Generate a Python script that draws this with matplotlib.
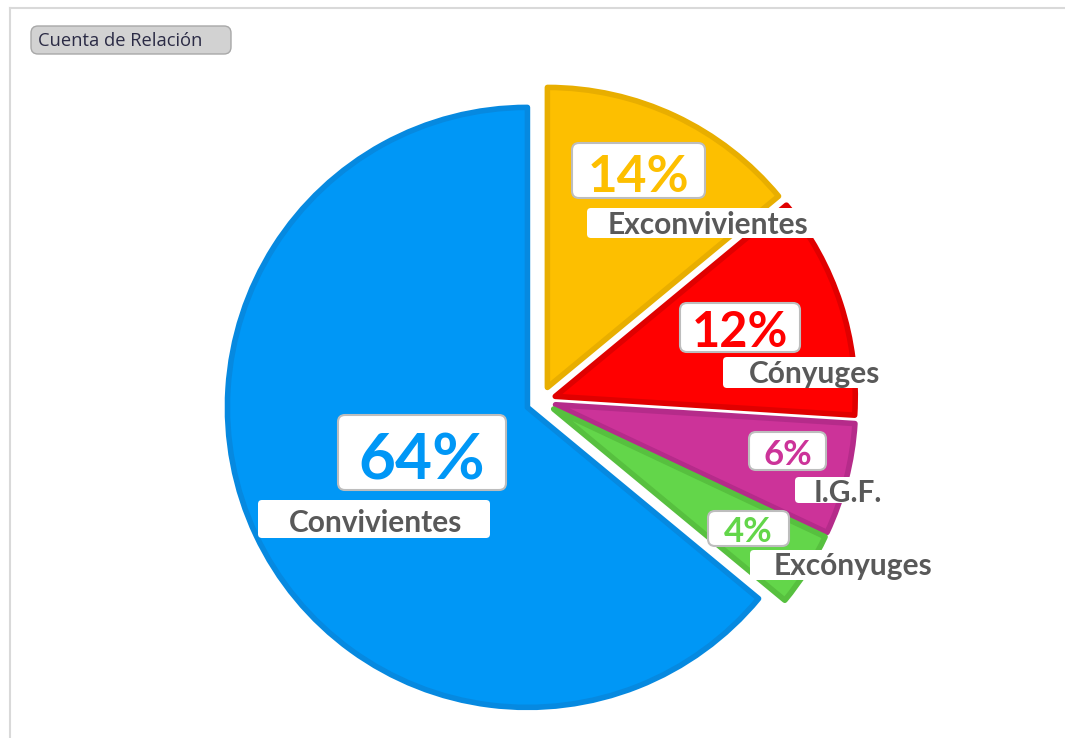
import matplotlib
matplotlib.use('Agg')
import matplotlib.pyplot as plt
from matplotlib.patches import FancyBboxPatch

W, H = 1065, 738

# relationship counts (percent of total)
categories = ["Exconvivientes", "Cónyuges", "I.G.F.", "Excónyuges", "Convivientes"]
shares = [14, 12, 6, 4, 64]
fills = ["#fdbf00", "#ff0000", "#cc3399", "#63d64a", "#0097f6"]
edges = ["#e8ae00", "#e00000", "#b52b8a", "#57c03f", "#0689e0"]
pct_colors = ["#fdbf00", "#ff0000", "#cc3399", "#63d64a", "#0097f6"]

# pie geometry in pixels (from top-left)
cx, cy, R = 541, 401, 300
offset = 15

fig = plt.figure(figsize=(W / 100, H / 100), dpi=100)
fig.patch.set_facecolor("white")

# pie axes in units of the radius
ax = fig.add_axes([0, 0, 1, 1])
wedges, _ = ax.pie(shares, colors=fills, startangle=90, counterclock=False,
                   explode=[offset / R] * len(shares),
                   wedgeprops=dict(linewidth=4, joinstyle="round"))
for w, ec in zip(wedges, edges):
    w.set_edgecolor(ec)
ax.set_xlim(-cx / R, (W - cx) / R)
ax.set_ylim(-(H - cy) / R, cy / R)
ax.set_aspect("auto")
ax.axis("off")

# overlay in pixel coordinates for labels and frame
tax = fig.add_axes([0, 0, 1, 1])
tax.set_xlim(0, W)
tax.set_ylim(H, 0)
tax.axis("off")
tax.patch.set_alpha(0)

# frame lines
tax.plot([10, W], [8, 8], color="#d9d9d9", lw=1.5)
tax.plot([10, 10], [8, H], color="#d9d9d9", lw=1.5)

# field button
tax.add_patch(FancyBboxPatch((31, 26), 200, 28, boxstyle="round,pad=0,rounding_size=7",
                             fc="#d2d2d2", ec="#a8a8a8", lw=1))
tax.text(38, 46, "Cuenta de Relación", fontsize=13.2, family="Open Sans",
         color="#2b2b45", va="baseline", ha="left")

# label layout: percent box, percent baseline, name box, name baseline
pct_boxes = [(572, 143, 705, 198), (680, 303, 800, 352), (749, 432, 826, 470),
             (708, 511, 789, 546), (338, 415, 506, 490)]
pct_base = [192, 347, 465, 542, 479]
pct_size = [37, 35, 25, 25, 46]
name_boxes = [(587, 208, 818, 238), (723, 357, 895, 388), (795, 477, 892, 503),
              (750, 550, 945, 580), (258, 500, 490, 538)]
name_base = [234, 383, 502, 575, 532]
name_x = [708, 815, 848, 853, 376]

for i, cat in enumerate(categories):
    x0, y0, x1, y1 = name_boxes[i]
    tax.add_patch(FancyBboxPatch((x0, y0), x1 - x0, y1 - y0,
                                 boxstyle="round,pad=0,rounding_size=4",
                                 fc="white", ec="none"))
    tax.text(name_x[i], name_base[i], cat, fontsize=21.5, family="Lato",
             weight="bold", color="#595959", ha="center", va="baseline")

    x0, y0, x1, y1 = pct_boxes[i]
    tax.add_patch(FancyBboxPatch((x0, y0), x1 - x0, y1 - y0,
                                 boxstyle="round,pad=0,rounding_size=7",
                                 fc="white", ec="#bdbdbd", lw=1.5))
    tax.text((x0 + x1) / 2, pct_base[i], f"{shares[i]}%", fontsize=pct_size[i],
             family="Lato", weight="bold", color=pct_colors[i],
             ha="center", va="baseline")

fig.savefig("out.png", dpi=100)
